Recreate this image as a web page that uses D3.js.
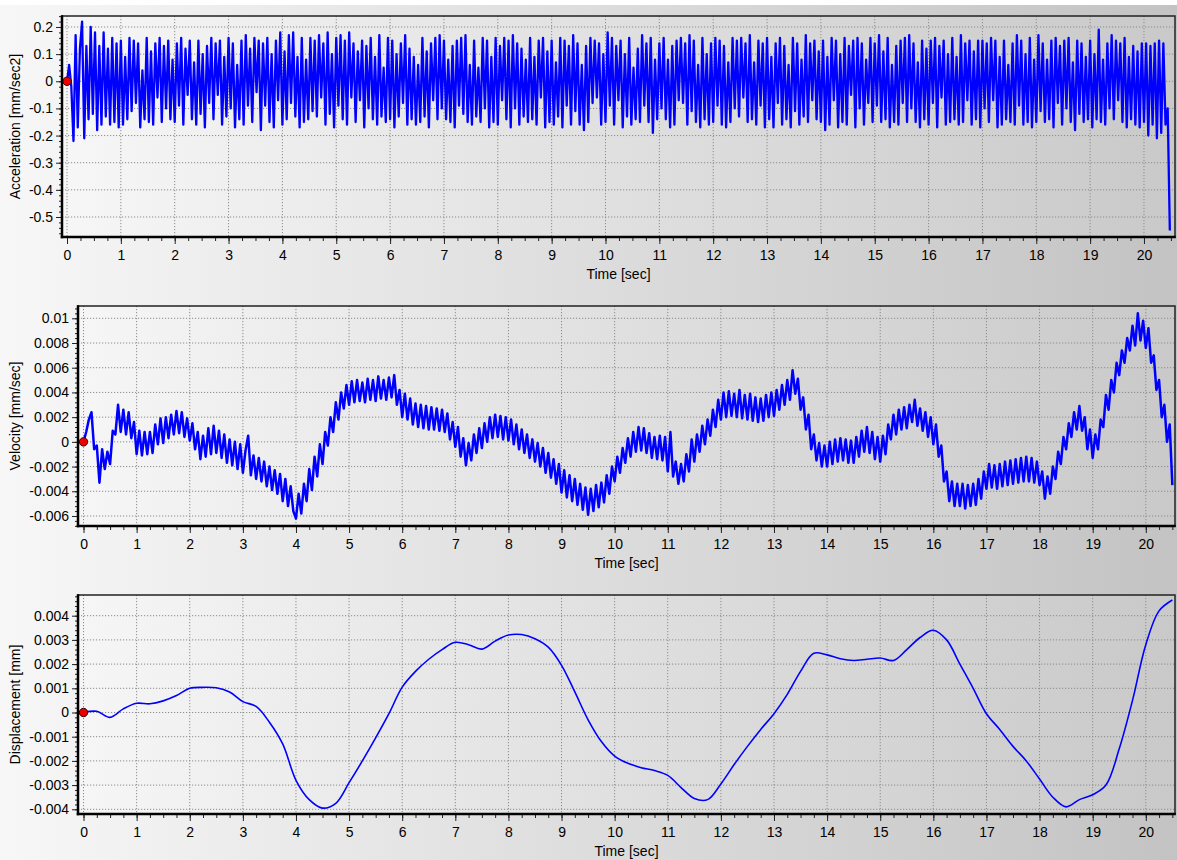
<!DOCTYPE html>
<html>
<head>
<meta charset="utf-8">
<script src="https://cdn.jsdelivr.net/npm/d3@7/dist/d3.min.js"></script>
<style>
body{margin:0;background:#fff}
svg{display:block}
text{font-family:"Liberation Sans",Arial,sans-serif}
</style>
</head>
<body>
<svg id="graph" width="1177" height="860"></svg>
<script>
var timeTicks = [0,1,2,3,4,5,6,7,8,9,10,11,12,13,14,15,16,17,18,19,20]
var accelTicks = [-0.5,-0.4,-0.3,-0.2,-0.1,0,0.1,0.2]
var velTicks = [-0.006,-0.004,-0.002,0,0.002,0.004,0.006,0.008,0.01]
var dispTicks = [-0.004,-0.003,-0.002,-0.001,0,0.001,0.002,0.003,0.004]

// sample spacing in seconds
var accelStep = 0.04
var velStep = 0.05
var dispStep = 0.25

// mm/sec2, one row per second
var acceleration = [
0,.06,-.02,-.22,.17,-.17,.12,.22,-.21,.13,-.14,.20,-.12,.18,-.18,.13,-.16,.18,-.13,.12,-.16,.16,-.15,.14,-.17,
.15,-.16,.09,-.14,.16,-.11,.15,-.08,.14,-.17,.04,-.14,.16,-.15,.11,-.16,.14,-.06,.16,-.15,.13,-.10,.15,-.14,.08,
-.15,.14,-.09,.16,-.16,.12,-.05,.15,-.14,.07,-.16,.15,-.12,.10,-.17,.13,-.08,.16,-.14,.14,-.05,.15,-.16,.09,-.13,
.16,-.10,.14,-.17,.06,-.14,.15,-.16,.17,-.09,.12,-.15,.16,-.04,.15,-.18,.14,-.09,.16,-.15,.10,-.17,.15,-.07,.18,
-.16,.11,-.14,.17,-.08,.18,-.13,.09,-.17,.16,-.15,.08,-.14,.16,-.11,.15,-.13,.17,-.06,.14,-.16,.18,-.12,.10,-.17,
.16,-.09,.17,-.14,.15,-.16,.18,-.06,.14,-.15,.11,-.07,.15,-.17,.13,-.10,.16,-.14,.09,-.16,.17,-.13,.05,-.15,.16,
-.14,.15,-.17,.10,-.13,.14,-.08,.17,-.16,.12,-.14,.09,-.16,.06,-.15,.16,-.13,.11,-.17,.14,-.07,.16,-.14,.17,-.10,
.15,-.14,.08,-.15,.13,-.17,.15,-.09,.16,-.12,.17,-.15,.06,-.16,.15,-.13,.05,-.15,.16,-.10,.15,-.17,.09,-.15,.16,
-.16,.13,-.07,.16,-.14,.15,-.17,.17,-.10,.14,-.16,.12,-.13,.08,-.15,.16,-.14,.09,-.16,.15,-.06,.16,-.17,.11,-.15,
.15,-.16,.07,-.13,.16,-.17,.15,-.09,.13,-.16,.17,-.11,.14,-.16,.06,-.18,.13,-.15,.16,-.08,.15,-.06,.14,-.16,.10,
-.15,.18,-.09,.16,-.16,.13,-.07,.15,-.17,.10,-.13,.16,-.16,.05,-.14,.12,-.15,.17,-.09,.14,-.15,.16,-.19,.08,-.14,
.14,-.10,.16,-.14,.08,-.17,.13,-.16,.15,-.07,.16,-.08,.14,-.16,.17,-.11,.15,-.15,.06,-.17,.16,-.14,.10,-.16,.14,
-.15,.16,-.09,.15,-.16,.13,-.17,.07,-.15,.16,-.10,.15,-.13,.16,-.06,.14,-.15,.17,-.14,.07,-.16,.15,-.09,.14,-.17,
.16,-.14,.09,-.17,.14,-.08,.16,-.16,.13,-.14,.06,-.17,.16,-.11,.14,-.16,.08,-.13,.17,-.15,.14,-.07,.15,-.14,.11,
-.15,.15,-.18,.09,-.16,.16,-.07,.15,-.17,.10,-.15,.16,-.16,.13,-.05,.15,-.17,.16,-.10,.14,-.16,.08,-.08,.16,-.15,
.14,-.09,.17,-.15,.11,-.14,.16,-.17,.06,-.15,.13,-.16,.15,-.08,.16,-.15,.17,-.10,.14,-.15,.07,-.17,.15,-.14,.12,
-.16,.15,-.08,.16,-.17,.13,-.06,.15,-.16,.10,-.15,.16,-.14,.09,-.16,.17,-.15,.14,-.07,.15,-.16,.11,-.14,.15,-.17,
.15,-.10,.14,-.15,.16,-.07,.15,-.17,.09,-.16,.15,-.14,.06,-.15,.14,-.16,.17,-.09,.15,-.16,.10,-.15,.16,-.17,.08,
-.15,.17,-.11,.14,-.15,.08,-.14,.15,-.17,.16,-.08,.13,-.16,.15,-.10,.16,-.15,.07,-.18,.15,-.12,.14,-.15,.09,-.14,
.15,-.17,.10,-.14,.19,-.15,.08,-.16,.14,-.10,.17,-.14,.15,-.07,.14,-.15,.16,-.17,.09,-.14,.13,-.16,.11,-.17,.14,
-.15,.14,-.20,.13,-.16,.14,-.21,.15,-.19,.14,-.16,-.10,-.55
]

// micrometres/sec, one row per second
var velocityUm = [
0,0.8,1.8,2.4,-0.6,-0.3,-3.3,-0.6,-2.2,-0.8,-1.8,0.9,0.6,3.0,0.8,2.6,0.6,2.4,0.3,1.6,
-1.0,0.9,-1.1,0.8,-1.0,0.8,-0.9,1.4,-0.2,1.9,-0.1,2.0,0.3,2.2,0.6,2.5,0.7,2.4,0.4,1.9,
0.1,1.5,-0.6,0.8,-1.4,0.5,-1.2,1.1,-1.0,1.3,-0.9,0.9,-1.3,0.6,-1.7,0.2,-1.9,0.0,-2.2,-0.2,
-2.5,-0.7,0.5,-2.7,-1.1,-3.0,-1.3,-3.2,-1.6,-3.6,-2.0,-3.9,-2.3,-4.2,-2.6,-4.8,-3.0,-5.2,-3.6,-5.6,
-6.2,-4.2,-5.8,-3.4,-4.8,-2.2,-3.9,-1.2,-2.8,-0.2,-1.8,0.8,-0.3,2.0,0.8,3.2,1.8,4.0,2.7,4.6,
3.0,4.9,3.2,5.0,3.3,4.8,3.2,5.1,3.4,5.0,3.3,5.3,3.5,5.0,3.4,5.2,3.6,5.4,3.0,4.2,
2.0,3.9,1.8,3.5,1.4,3.1,1.2,3.0,1.1,2.9,1.0,2.8,1.0,2.7,0.9,2.6,0.8,2.3,0.2,1.6,
-0.4,1.2,-1.2,0.3,-1.9,-0.1,-1.5,0.6,-0.9,1.1,-0.5,1.5,0.0,2.0,0.3,2.2,0.4,2.1,0.2,2.0,
0.1,1.8,-0.2,1.4,-0.6,1.0,-0.9,0.6,-1.3,0.2,-1.6,-0.1,-2.0,-0.5,-2.5,-0.9,-2.9,-1.4,-3.4,-1.8,
-4.1,-2.3,-4.5,-2.7,-4.8,-3.0,-5.1,-3.4,-5.5,-3.7,-5.9,-3.8,-5.6,-3.5,-5.3,-3.3,-4.9,-2.7,-4.2,-2.0,
-3.2,-1.2,-2.5,-0.5,-1.7,0.3,-1.2,0.8,-0.8,1.2,-0.7,1.1,-0.9,0.7,-1.3,0.4,-1.4,0.5,-1.5,0.4,
-2.4,0.8,-2.8,-1.6,-3.4,-1.8,-3.2,-1.0,-2.4,0.2,-1.6,0.6,-0.8,1.3,-0.2,1.8,0.5,2.6,1.2,3.4,
1.8,4.0,2.0,4.1,2.1,3.9,2.0,4.2,1.9,3.8,1.8,3.9,1.7,3.6,1.6,3.5,1.7,3.8,2.0,4.0,
2.1,4.2,2.6,4.6,3.0,5.0,3.4,5.8,3.9,5.1,2.6,3.6,1.0,2.2,-0.6,0.6,-1.5,-0.1,-2.0,-0.3,
-2.0,0.0,-1.8,0.2,-1.6,0.3,-1.5,0.2,-1.7,0.1,-1.7,0.4,-1.2,0.9,-0.8,1.2,-0.9,0.8,-1.4,0.4,
-1.6,0.5,-1.0,1.4,0.2,2.2,0.6,2.6,1.0,2.8,1.1,3.0,1.6,3.4,1.3,2.7,0.9,2.4,0.4,2.0,
-0.2,1.4,-1.2,-0.3,-3.2,-2.4,-4.8,-3.2,-5.2,-3.4,-5.2,-3.4,-5.4,-3.5,-5.2,-3.4,-5.1,-3.0,-4.6,-2.4,
-3.8,-1.8,-3.7,-1.9,-3.8,-1.8,-3.6,-1.6,-3.5,-1.5,-3.4,-1.4,-3.3,-1.3,-3.2,-1.2,-3.2,-1.3,-3.3,-1.6,
-3.5,-2.4,-4.6,-2.8,-4.2,-2.0,-3.0,-0.8,-1.8,0.4,-0.6,1.5,0.4,2.4,1.0,2.9,0.9,2.0,-0.6,1.0,
-1.3,0.6,-0.6,1.8,1.2,3.8,2.6,5.0,4.0,6.4,5.4,7.4,6.4,8.4,7.4,9.4,7.8,10.4,8.2,9.8,
7.6,9.2,6.4,7.0,4.2,5.0,2.0,3.0,0.0,1.4,-3.5
]

// micrometres, every quarter second
var displacementUm = [
0,0.05,-0.2,0.15,
0.38,0.36,0.48,0.7,
1.0,1.04,1.02,0.85,
0.45,0.25,-0.4,-1.3,
-2.8,-3.6,-3.95,-3.75,
-2.9,-2.0,-1.05,-0.05,
1.05,1.7,2.2,2.6,
2.9,2.8,2.62,2.95,
3.2,3.22,3.05,2.7,
1.95,0.85,-0.3,-1.2,
-1.8,-2.1,-2.28,-2.4,
-2.6,-3.1,-3.55,-3.6,
-2.95,-2.15,-1.4,-0.7,
-0.05,0.75,1.7,2.45,
2.38,2.22,2.15,2.2,
2.25,2.15,2.6,3.1,
3.4,3.0,2.0,1.0,
-0.05,-0.7,-1.4,-2.0,
-2.75,-3.5,-3.9,-3.6,
-3.4,-3.0,-1.5,0.5,
2.8,4.2,4.65
]

var panels = [
    {box:{left:62,right:1175,top:16,bottom:237}, tRange:[-0.093,20.576], vRange:[-0.5737,0.2405],
     values:acceleration, step:accelStep, unit:1, ticks:accelTicks, minor:0.02,
     label:"Acceleration [mm/sec2]", width:2.3, curve:d3.curveLinear},
    {box:{left:78,right:1175,top:306,bottom:526}, tRange:[-0.104,20.55], vRange:[-0.00681,0.010995],
     values:velocityUm, step:velStep, unit:0.001, ticks:velTicks, minor:0.0004,
     label:"Velocity [mm/sec]", width:2.5, curve:d3.curveLinear},
    {box:{left:78,right:1175,top:595,bottom:814}, tRange:[-0.104,20.55], vRange:[-0.004194,0.004855],
     values:displacementUm, step:dispStep, unit:0.001, ticks:dispTicks, minor:0.0002,
     label:"Displacement [mm]", width:1.6, curve:d3.curveCatmullRom}
]

var fmt = function(d)
{
    return String(+d.toFixed(4))
}

var minorValues = function(domain, step)
{
    var out = []
    for (var i = Math.ceil(domain[0]/step); i <= Math.floor(domain[1]/step); i++)
    {
        out.push(+(i*step).toFixed(6))
    }
    return out
}

var svg = d3.select("#graph")
var defs = svg.append("defs")

var bg = defs.append("linearGradient")
.attr("id","pageGrad")
.attr("gradientUnits","userSpaceOnUse")
.attr("x1",0).attr("x2",1177).attr("y1",0).attr("y2",0)
bg.append("stop").attr("offset",0).attr("stop-color","#f7f7f7")
bg.append("stop").attr("offset",1).attr("stop-color","#c3c3c3")

var pg = defs.append("linearGradient")
.attr("id","plotGrad")
.attr("gradientUnits","userSpaceOnUse")
.attr("x1",0).attr("x2",1177).attr("y1",0).attr("y2",0)
pg.append("stop").attr("offset",0).attr("stop-color","#f9f9f9")
pg.append("stop").attr("offset",1).attr("stop-color","#c9c9c9")

svg.append("rect")
.attr("x",0).attr("y",5)
.attr("width",1177).attr("height",855)
.attr("fill","url(#pageGrad)")

var drawPanel = function(p, i)
{
    var b = p.box
    var x = d3.scaleLinear().domain(p.tRange).range([b.left,b.right])
    var y = d3.scaleLinear().domain(p.vRange).range([b.bottom,b.top])
    var g = svg.append("g")

    g.append("rect")
    .attr("x",b.left).attr("y",b.top)
    .attr("width",b.right-b.left).attr("height",b.bottom-b.top)
    .attr("fill","url(#plotGrad)")

    g.append("g")
    .selectAll("line")
    .data(timeTicks)
    .enter()
    .append("line")
    .attr("x1",function(d){return x(d)}).attr("x2",function(d){return x(d)})
    .attr("y1",b.top).attr("y2",b.bottom)
    .attr("stroke","#8c8c8c").attr("stroke-dasharray","1.2,1.8")

    g.append("g")
    .selectAll("line")
    .data(p.ticks)
    .enter()
    .append("line")
    .attr("y1",function(d){return y(d)}).attr("y2",function(d){return y(d)})
    .attr("x1",b.left).attr("x2",b.right)
    .attr("stroke","#8c8c8c").attr("stroke-dasharray","1.2,1.8")

    defs.append("clipPath")
    .attr("id","clip"+i)
    .append("rect")
    .attr("x",b.left).attr("y",b.top)
    .attr("width",b.right-b.left).attr("height",b.bottom-b.top)

    var line = d3.line()
    .x(function(d,k){return x(k*p.step)})
    .y(function(d){return y(d*p.unit)})
    .curve(p.curve)

    g.append("path")
    .datum(p.values)
    .attr("clip-path","url(#clip"+i+")")
    .attr("d",line)
    .attr("fill","none")
    .attr("stroke","#0000ff")
    .attr("stroke-width",p.width)
    .attr("stroke-linejoin","round")

    g.append("circle")
    .attr("cx",x(0)).attr("cy",y(0))
    .attr("r",4.2)
    .attr("fill","#ee0000")
    .attr("stroke","#3a0000")
    .attr("stroke-width",1)

    g.append("rect")
    .attr("x",b.left).attr("y",b.top)
    .attr("width",b.right-b.left).attr("height",b.bottom-b.top)
    .attr("fill","none").attr("stroke","#222").attr("stroke-width",1.5)

    var xMinor = g.append("g")
    .attr("transform","translate(0,"+b.bottom+")")
    .call(d3.axisBottom(x).tickValues(minorValues([0,p.tRange[1]],0.25)).tickSize(4).tickFormat(""))
    var xMajor = g.append("g")
    .attr("transform","translate(0,"+b.bottom+")")
    .call(d3.axisBottom(x).tickValues(timeTicks).tickSize(7).tickPadding(6).tickFormat(fmt))

    var yMinor = g.append("g")
    .attr("transform","translate("+b.left+",0)")
    .call(d3.axisLeft(y).tickValues(minorValues(p.vRange,p.minor)).tickSize(3).tickFormat(""))
    var yMajor = g.append("g")
    .attr("transform","translate("+b.left+",0)")
    .call(d3.axisLeft(y).tickValues(p.ticks).tickSize(6).tickPadding(3).tickFormat(fmt))

    ;[xMinor,xMajor,yMinor,yMajor].forEach(function(a)
    {
        a.select(".domain").remove()
        a.attr("font-size",14).attr("font-family","Liberation Sans, Arial, sans-serif")
        a.selectAll("line").attr("stroke","#222")
        a.selectAll("text").attr("fill","#000")
    })

    g.append("line")
    .attr("x1",b.left).attr("x2",b.left)
    .attr("y1",b.top-0.75).attr("y2",b.bottom+1.25)
    .attr("stroke","#000").attr("stroke-width",2.5)
    g.append("line")
    .attr("x1",b.left-1.25).attr("x2",b.right+0.75)
    .attr("y1",b.bottom).attr("y2",b.bottom)
    .attr("stroke","#000").attr("stroke-width",2.5)

    g.append("text")
    .attr("x",(b.left+b.right)/2)
    .attr("y",b.bottom+42)
    .attr("text-anchor","middle")
    .attr("font-size",14)
    .text("Time [sec]")

    g.append("text")
    .attr("transform","translate(20,"+((b.top+b.bottom)/2)+") rotate(-90)")
    .attr("text-anchor","middle")
    .attr("font-size",14)
    .text(p.label)
}

panels.forEach(drawPanel)
</script>
</body>
</html>
